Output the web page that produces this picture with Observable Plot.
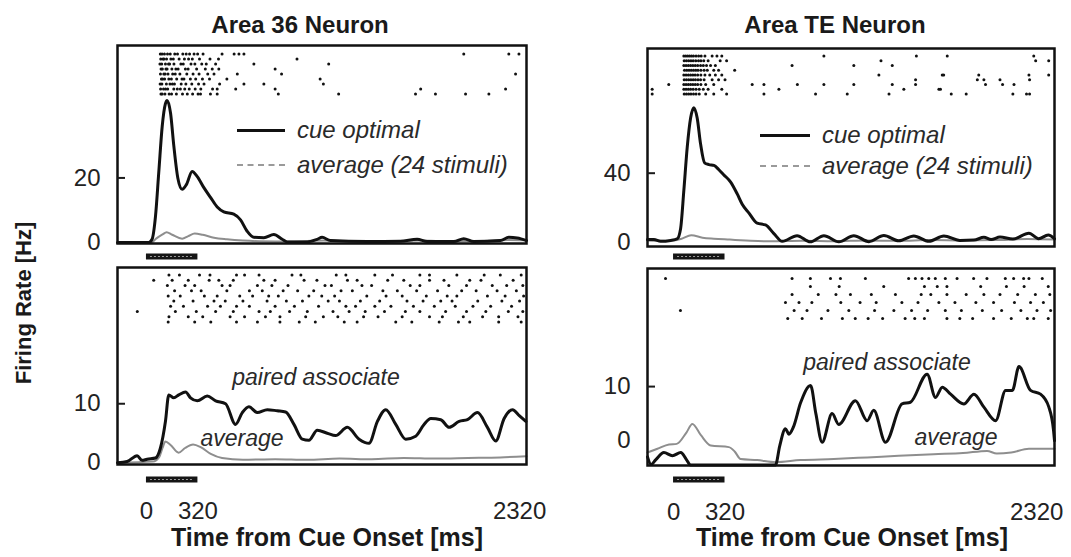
<!DOCTYPE html>
<html><head><meta charset="utf-8">
<script src="https://cdn.jsdelivr.net/npm/d3@7"></script>
<script src="https://cdn.jsdelivr.net/npm/@observablehq/plot@0.6"></script>
<style>
body{margin:0;background:#fff;}
#chart{position:relative;width:1071px;height:557px;overflow:hidden;background:#fff;font-family:"Liberation Sans",Arial,Helvetica,sans-serif;color:#1a1a1a;}
.t{position:absolute;white-space:nowrap;line-height:1;}
.c{transform:translate(-50%,-50%);}
.l{transform:translate(0,-50%);}
.b{font-weight:bold;}
.i{font-style:italic;color:#2a2a2a;}
.sw{position:absolute;height:0;}
</style></head><body><div id="chart"></div>
<script>
// ---------------- data ----------------
const panelTitles = ["Area 36 Neuron", "Area TE Neuron"];
const yAxisTitle = "Firing Rate [Hz]";
const xAxisTitle = "Time from Cue Onset [ms]";
const xTickValues = [0, 320, 2320];
const cuePeriod = [{start: 0, end: 320}];
const legendTop = ["cue optimal", "average (24 stimuli)"];
const labelsBottom = ["paired associate", "average"];

// Area 36, cue optimal [time ms, rate Hz]
const a36Cue = [[-180,0],[14,0],[35,1],[56,8],[77,22],[98,36],[118,43],[129,44],[150,40],[170,30],[195,20],[222,16.5],[249,18],[284,22],[315,20.5],[357,17],[398,14],[440,11],[481,9.5],[543,8.8],[585,7],[626,3.5],[668,1.6],[730,1.5],[792,2.5],[844,1],[875,0.2],[999,0.2],[1061,1],[1092,1.6],[1144,0.6],[1372,0.3],[1580,0.4],[1683,1],[1745,0.3],[1911,0.3],[1973,1.2],[2035,0.3],[2201,0.6],[2253,1.6],[2305,1.4],[2363,0.6]];
const a36CueAvg = [[-180,0],[30,0],[60,1.2],[100,2.5],[125,3.2],[160,2.4],[222,1.2],[260,2],[300,2.8],[350,2.4],[420,1.5],[500,1],[600,0.6],[700,0.4],[900,0.3],[1100,0.6],[1300,0.3],[1500,0.4],[1700,0.6],[1900,0.4],[2100,0.5],[2250,0.8],[2363,0.7]];
// Area TE, cue optimal
const teCue = [[-162,1.5],[-122,1.5],[-81,0.5],[-18,1],[23,2],[44,8],[64,30],[85,55],[106,72],[126,78],[147,72],[168,57],[193,46],[220,45],[251,44.5],[282,42],[313,39],[354,35],[396,28],[427,22],[468,17],[520,11],[572,10],[624,5],[676,0.5],[768,3.8],[850,0.2],[935,3.8],[1028,0.2],[1121,3.8],[1215,0.3],[1308,3.9],[1400,0.8],[1494,3.6],[1588,0.5],[1681,3.6],[1780,1],[1868,1.2],[1930,2.8],[1975,1.5],[2030,3],[2110,1.8],[2210,5.2],[2270,2],[2330,4.2],[2369,2]];
const teCueAvg = [[-162,1],[-50,0.8],[0,1],[50,2],[110,4],[180,2.6],[250,2],[350,1.5],[450,1],[600,0.5],[800,0.8],[1000,0.6],[1200,1],[1400,0.8],[1600,1.2],[1800,1],[2000,1.2],[2200,1.8],[2369,1.5]];
// Area 36, paired associate
const a36Pair = [[-180,0],[-120,0.2],[-58,1.2],[-27,0.4],[4,0.6],[56,0.8],[87,2.5],[118,7],[139,11.5],[170,11],[201,11.5],[243,12],[274,11],[316,10.5],[378,11.3],[430,10.5],[492,10],[554,6.5],[596,8.5],[637,9.5],[689,8.5],[751,9],[813,8.8],[865,8.6],[917,6.5],[969,4],[1010,3.8],[1062,5.5],[1124,5],[1176,4.6],[1249,6],[1322,4],[1384,3.3],[1436,7],[1488,9],[1550,6.5],[1612,4],[1674,4.5],[1726,6.5],[1768,7.5],[1830,7.3],[1882,6],[1944,7],[1996,7.3],[2058,8.5],[2120,6],[2172,3.7],[2224,7.5],[2276,9],[2318,8],[2359,7]];
const a36PairAvg = [[-180,0],[40,0.2],[80,1],[100,2.5],[118,3.6],[150,3],[200,1.7],[240,2.5],[290,3.1],[340,2.6],[400,1.5],[470,0.8],[600,0.5],[800,0.6],[1000,0.5],[1200,0.7],[1400,0.6],[1600,0.8],[1800,0.7],[2000,0.8],[2200,0.9],[2363,1.1]];
// Area TE, paired associate
const tePair = [[-162,-3],[-140,-4.4],[-110,-3.5],[-60,-2.2],[-7,-2.8],[45,-2.2],[80,-3.5],[105,-4.5],[634,-4.5],[660,-1],[696,2.2],[717,1.2],[745,2.5],[790,7],[852,10.2],[885,5],[924,-0.3],[986,5],[1027,3],[1131,7.4],[1204,3.7],[1245,5.6],[1318,-0.3],[1421,6.8],[1473,7.1],[1577,12.3],[1629,8],[1671,9.9],[1723,8.6],[1805,6.8],[1868,8.6],[1930,6.2],[2003,3.7],[2065,9.3],[2107,9.3],[2148,13.7],[2220,9.3],[2282,8.6],[2334,6.2],[2363,1.9],[2369,0]];
const tePairAvg = [[-162,-2.2],[-100,-1.5],[-28,-0.7],[20,-0.6],[80,1.5],[117,3.1],[170,1],[231,-0.9],[344,-1.2],[380,-2],[417,-3.4],[520,-3.6],[634,-4],[789,-3.6],[996,-3.4],[1204,-3.1],[1400,-2.8],[1618,-2.5],[1800,-2.3],[1950,-1.9],[2010,-2.4],[2100,-2.2],[2210,-1.5],[2369,-1.5]];

// spike rasters: one list of spike times (ms) per trial, top trial first
const a36CueSpikes = [
  [86,97,112,131,148,176,193,226,247,268,296,318,352,470,545,575,606,1973,2253,2316],
  [89,103,109,125,152,167,203,236,262,285,330,395,448,936],
  [84,95,118,137,144,171,214,229,277,301,344,372,430,668,1133],
  [91,99,121,128,158,183,197,242,259,312,366,409,450,800],
  [87,108,116,134,163,179,208,251,290,327,381,420,565,840,2295],
  [93,101,113,139,155,188,221,233,273,306,348,392,500,1080],
  [85,96,124,146,161,174,216,245,282,324,358,455,606,730,1100],
  [88,106,119,132,170,192,211,238,266,303,338,411,440,555,800,1705,2233],
  [90,98,115,141,156,186,224,254,287,321,336,398,440,820,1195,1673,1797,1984,2129]
];
const teCueSpikes = [
  [64,76,88,100,112,124,140,156,172,195,240,270,300,935,1510,1702,2240],
  [66,80,94,108,122,138,155,170,188,215,290,330,1290,2252,2333],
  [64,78,92,106,120,135,150,168,185,205,230,260,737,1121,1360],
  [68,82,96,110,124,138,152,170,190,210,250,280,380],
  [64,78,92,106,120,134,150,170,195,225,260,300,1277,1671,1680,1898,2210,2333],
  [66,80,94,108,122,136,152,168,190,240,280,320,1505,1889,1930,2030,2214],
  [-30,64,78,92,106,120,135,150,170,200,250,489,562,770,935,1121,1360,1505,1940,2046,2117],
  [-133,64,78,92,106,122,140,160,185,215,300,655,1432,1650,1660],
  [-133,66,80,94,108,124,140,160,200,250,330,562,883,1080,1340,1727,1820,2110,2195,2214]
];
const a36PairSpikes = [
  [140,205,330,395,560,610,700,905,960,1180,1240,1420,1530,1700,1760,1930,2100,2200,2330],
  [45,160,260,390,450,540,730,800,980,1060,1250,1310,1500,1600,1760,1850,2010,2080,2280],
  [130,240,300,470,520,690,780,880,1110,1150,1340,1400,1640,1700,1880,1990,2150,2240,2340],
  [175,280,340,500,640,720,850,940,1040,1210,1280,1470,1560,1680,1810,1960,2050,2180,2300],
  [135,210,360,440,580,660,760,820,1010,1090,1170,1370,1490,1590,1740,1870,1930,2120,2230,2345],
  [170,290,420,490,600,750,870,970,1130,1200,1330,1450,1620,1720,1830,1900,2060,2210,2320],
  [150,230,380,460,560,640,800,920,1070,1240,1300,1420,1520,1660,1790,1920,2030,2140,2270],
  [-57,180,310,430,540,700,770,890,1000,1160,1260,1360,1480,1610,1700,1860,1990,2110,2250,2340],
  [140,260,350,520,610,740,830,990,1100,1190,1350,1440,1590,1760,1840,1970,2090,2190,2310],
  [135,300,400,560,690,830,950,1050,1230,1310,1550,1650,1820,1940,2010,2190,2330]
];
const tePairSpikes = [
  [-50,737,851,976,1038,1193,1462,1504,1545,1587,1628,1690,1763,1866,1949,2063,2115,2177,2210,2293],
  [851,1030,1307,1560,1640,1700,1910,2070,2180,2330],
  [737,900,1010,1100,1230,1380,1540,1600,1700,1820,1930,2030,2140,2250,2340],
  [696,780,860,1040,1160,1260,1420,1520,1650,1750,1880,1990,2120,2220,2300],
  [43,750,830,960,1090,1250,1370,1480,1580,1690,1790,1920,2040,2160,2260,2345],
  [710,800,920,1050,1130,1210,1300,1440,1500,1560,1700,1780,1860,1990,2100,2200,2240,2330]
];
const yTicks = {a36Cue: [0, 20], teCue: [0, 40], a36Pair: [0, 10], tePair: [0, 10]};

// ---------------- layout ----------------
const chart = document.getElementById("chart");
const FONT = '"Liberation Sans",Arial,Helvetica,sans-serif';
const toXY = d => ({t: d[0], v: d[1]});

const panels = [
  {main: a36Cue, avg: a36CueAvg, spikes: a36CueSpikes, ticks: yTicks.a36Cue, xd: [-180, 2363], yd: [-0.3, 61],
   left: 0, top: 40, ml: 117, mr: 14, inner: 198, mb: 25, barDy: 13, xAxis: false, lastDx: 0, r0: 53, rs: 5},
  {main: teCue, avg: teCueAvg, spikes: teCueSpikes, ticks: yTicks.teCue, xd: [-162, 2369], yd: [-2.5, 112.3],
   left: 530, top: 43, ml: 117, mr: 16, inner: 198, mb: 25, barDy: 10, xAxis: false, lastDx: 0, r0: 55, rs: 4.75},
  {main: a36Pair, avg: a36PairAvg, spikes: a36PairSpikes, ticks: yTicks.a36Pair, xd: [-180, 2363], yd: [-0.3, 33.1],
   left: 0, top: 262, ml: 117, mr: 14, inner: 197, mb: 62, barDy: 15, xAxis: true, lastDx: 0, r0: 275, rs: 5.2},
  {main: tePair, avg: tePairAvg, spikes: tePairSpikes, ticks: yTicks.tePair, xd: [-162, 2369], yd: [-4.6, 31.85],
   left: 530, top: 263, ml: 117, mr: 16, inner: 197, mb: 62, barDy: 14, xAxis: true, lastDx: -10, r0: 278, rs: 8}
];

function place(el, left, top) {
  el.style.position = "absolute";
  el.style.left = left + "px";
  el.style.top = top + "px";
  chart.appendChild(el);
}

for (const p of panels) {
  const W = 540, mt = 5;
  const yMin = p.yd[0];
  const marks = [
    Plot.line(p.avg.map(toXY), {x: "t", y: "v", stroke: "#8e8e8e", strokeWidth: 2, curve: "monotone-x"}),
    Plot.line(p.main.map(toXY), {x: "t", y: "v", stroke: "#111", strokeWidth: 3, curve: "monotone-x"}),
    Plot.frame({stroke: "#111", strokeWidth: 2.5}),
    Plot.ruleY(cuePeriod, {x1: "start", x2: "end", y: () => yMin, dy: p.barDy, stroke: "#151515", strokeWidth: 6}),
    Plot.ruleY(cuePeriod, {x1: "start", x2: "end", y: () => yMin, dy: p.barDy, stroke: "#9a9a9a", strokeWidth: 1.2, strokeDasharray: "2,2", insetLeft: 4, insetRight: 4}),
    Plot.axisY({ticks: p.ticks.filter(v => v !== 0), tickSize: 8, dx: 8, strokeWidth: 2, tickFormat: () => "", label: null}),
    Plot.axisY({ticks: p.ticks, tickSize: 0, tickPadding: 17, fontSize: 24, fill: "#222", fontFamily: FONT, tickFormat: d => String(d), label: null})
  ];
  if (p.xAxis) {
    const last = xTickValues[xTickValues.length - 1];
    marks.push(Plot.axisX({ticks: xTickValues.filter(v => v !== last), tickSize: 0, tickPadding: 37, fontSize: 24, fill: "#222", fontFamily: FONT, tickFormat: d => String(d), label: null}));
    marks.push(Plot.axisX({ticks: [last], tickSize: 0, tickPadding: 37, dx: p.lastDx, fontSize: 24, fill: "#222", fontFamily: FONT, tickFormat: d => String(d), label: null}));
  }
  const svg = Plot.plot({
    width: W, height: mt + p.inner + p.mb,
    marginLeft: p.ml, marginRight: p.mr, marginTop: mt, marginBottom: p.mb,
    x: {domain: p.xd, label: null, axis: p.xAxis ? undefined : null},
    y: {domain: p.yd, label: null},
    style: {background: "transparent", overflow: "visible", fontFamily: FONT},
    marks
  });
  place(svg, p.left, p.top);

  // raster overlay sharing the same x scale
  const rows = p.spikes.length;
  const spikes = p.spikes.flatMap((ts, trial) => ts.map(t => ({t, trial})));
  const rsvg = Plot.plot({
    width: W, height: rows * p.rs,
    marginLeft: p.ml, marginRight: p.mr, marginTop: 0, marginBottom: 0,
    x: {domain: p.xd, axis: null},
    y: {domain: [rows - 0.5, -0.5], axis: null},
    style: {background: "transparent", overflow: "visible"},
    marks: [Plot.dot(spikes, {x: "t", y: "trial", r: 1.5, fill: "#111", stroke: null})]
  });
  place(rsvg, p.left, p.r0 - p.rs / 2);
}

// ---------------- text ----------------
function text(str, cls, left, top, extra) {
  const d = document.createElement("div");
  d.className = "t " + cls;
  d.textContent = str;
  d.style.left = left + "px";
  d.style.top = top + "px";
  if (extra) Object.assign(d.style, extra);
  chart.appendChild(d);
  return d;
}
function swatch(left, top, width, style) {
  const s = document.createElement("div");
  s.className = "sw";
  s.style.left = left + "px";
  s.style.top = top + "px";
  s.style.width = width + "px";
  s.style.borderTop = style;
  chart.appendChild(s);
}
text(panelTitles[0], "c b", 300, 25, {fontSize: "24px"});
text(panelTitles[1], "c b", 835, 25, {fontSize: "24px"});
text(yAxisTitle, "b", 24, 303, {fontSize: "22px", transform: "translate(-50%,-50%) rotate(-90deg)"});
text(xAxisTitle, "c b", 327, 537, {fontSize: "25px"});
text(xAxisTitle, "c b", 852, 537, {fontSize: "25px"});

// legends (top panels)
swatch(237, 129, 48, "3px solid #111");
swatch(237, 164, 48, "2px dashed #9a9a9a");
text(legendTop[0], "l i", 297, 130, {fontSize: "24px"});
text(legendTop[1], "l i", 297, 165, {fontSize: "24px"});
swatch(760, 134, 50, "3px solid #111");
swatch(760, 165, 50, "2px dashed #9a9a9a");
text(legendTop[0], "l i", 822, 135, {fontSize: "24px"});
text(legendTop[1], "l i", 822, 166, {fontSize: "24px"});

// annotations (bottom panels)
text(labelsBottom[0], "c i", 316, 377, {fontSize: "23px"});
text(labelsBottom[1], "c i", 242, 438, {fontSize: "23px"});
text(labelsBottom[0], "c i", 887, 362, {fontSize: "23px"});
text(labelsBottom[1], "c i", 956, 437, {fontSize: "23px"});
</script>
</body></html>
